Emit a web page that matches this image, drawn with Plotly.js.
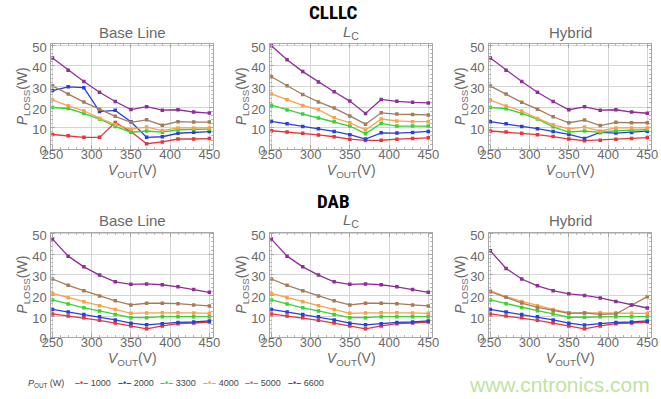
<!DOCTYPE html>
<html><head><meta charset="utf-8">
<script src="https://cdn.plot.ly/plotly-3.0.1.min.js"></script>
<style>html,body{margin:0;padding:0;background:#fff;}#chart{width:661px;height:399px;}</style>
</head><body><div id="chart"></div>
<script>
// ---------------- data ----------------
const VOUT = [250, 270, 290, 310, 330, 350, 370, 390, 410, 430, 450];
const SERIES_NAMES = ['1000', '2000', '3300', '4000', '5000', '6600'];
const SERIES_COLORS = ['#e8353a', '#2a3fdc', '#36d236', '#f5a24c', '#a57c5a', '#8e2f98'];
const PANEL_TITLES = ['Base Line', '<i>L</i><sub>C</sub>', 'Hybrid'];
const ROW_TITLES = ['CLLLC', 'DAB'];
const X_TICKS = [250, 300, 350, 400, 450];
const Y_TICKS = [0, 10, 20, 30, 40, 50];

// CLLLC - Base Line
const CLLLC_BASE_1000 = [6.7, 6.1, 5.3, 5.3, 12.5, 8.1, 2.2, 3.1, 4.5, 4.5, 4.7];
const CLLLC_BASE_2000 = [28.0, 29.8, 29.4, 17.8, 18.4, 12.9, 5.3, 5.6, 7.3, 7.8, 8.1];
const CLLLC_BASE_3300 = [19.8, 19.3, 16.9, 14.2, 10.6, 7.8, 8.4, 7.8, 9.0, 9.1, 9.3];
const CLLLC_BASE_4000 = [23.5, 20.6, 18.2, 14.6, 11.5, 9.3, 10.3, 8.6, 9.9, 9.9, 9.9];
const CLLLC_BASE_5000 = [30.3, 26.4, 22.4, 19.0, 15.5, 12.6, 13.8, 11.2, 12.9, 12.7, 12.7];
const CLLLC_BASE_6600 = [43.8, 37.9, 32.4, 27.2, 22.7, 18.8, 20.2, 18.5, 18.7, 17.6, 17.1];
// CLLLC - L_C
const CLLLC_LC_1000 = [8.5, 7.9, 7.3, 6.5, 5.6, 4.4, 3.8, 3.9, 4.4, 4.8, 5.1];
const CLLLC_LC_2000 = [13.1, 11.9, 10.6, 9.5, 8.2, 6.6, 4.5, 7.5, 7.4, 7.7, 8.2];
const CLLLC_LC_3300 = [20.9, 18.6, 16.6, 14.7, 12.9, 10.8, 7.1, 12.1, 10.8, 10.8, 10.8];
const CLLLC_LC_4000 = [26.4, 23.5, 20.8, 18.7, 14.8, 12.4, 8.9, 14.2, 13.3, 12.9, 12.9];
const CLLLC_LC_5000 = [34.7, 30.3, 26.1, 22.5, 19.5, 15.7, 11.7, 17.2, 16.6, 16.4, 16.2];
const CLLLC_LC_6600 = [49.8, 43.0, 37.2, 32.2, 27.4, 22.9, 16.9, 23.7, 22.8, 22.3, 22.0];
// CLLLC - Hybrid
const CLLLC_HYB_1000 = [8.4, 7.9, 7.3, 6.6, 5.7, 4.5, 3.7, 3.9, 4.4, 4.8, 5.2];
const CLLLC_HYB_2000 = [12.9, 11.9, 10.6, 9.5, 8.1, 6.7, 4.8, 7.7, 7.4, 7.7, 8.3];
const CLLLC_HYB_3300 = [19.8, 19.2, 16.9, 14.2, 10.4, 7.9, 8.4, 7.7, 8.5, 8.7, 9.1];
const CLLLC_HYB_4000 = [23.4, 20.5, 18.1, 14.5, 11.4, 9.4, 10.3, 8.4, 9.9, 9.9, 9.9];
const CLLLC_HYB_5000 = [30.2, 26.4, 22.3, 19.0, 15.3, 12.4, 13.7, 11.0, 12.6, 12.4, 12.4];
const CLLLC_HYB_6600 = [43.8, 37.9, 32.4, 27.2, 22.7, 18.7, 20.1, 18.5, 18.7, 17.6, 17.0];
// DAB - Base Line
const DAB_BASE_1000 = [11.0, 10.0, 9.1, 7.9, 6.6, 5.2, 3.8, 5.2, 6.3, 6.6, 7.1];
const DAB_BASE_2000 = [13.2, 12.0, 10.8, 9.6, 8.1, 6.5, 5.7, 6.3, 6.9, 7.1, 7.6];
const DAB_BASE_3300 = [17.8, 15.9, 14.0, 12.5, 10.8, 9.2, 9.2, 9.7, 9.7, 9.7, 9.7];
const DAB_BASE_4000 = [21.0, 18.9, 16.9, 15.0, 13.2, 11.3, 11.5, 11.6, 11.6, 11.5, 11.3];
const DAB_BASE_5000 = [28.0, 24.9, 22.3, 19.7, 17.4, 15.4, 16.2, 16.2, 16.0, 15.4, 14.9];
const DAB_BASE_6600 = [47.4, 39.1, 33.9, 29.9, 26.6, 25.4, 25.6, 25.2, 24.2, 22.9, 21.5];
// DAB - L_C
const DAB_LC_1000 = [11.0, 10.0, 9.1, 7.9, 6.6, 5.2, 3.8, 5.2, 6.3, 6.6, 7.1];
const DAB_LC_2000 = [13.2, 12.0, 10.8, 9.6, 8.1, 6.5, 5.7, 6.3, 6.9, 7.1, 7.6];
const DAB_LC_3300 = [17.8, 15.9, 14.0, 12.5, 10.8, 9.2, 9.2, 9.7, 9.7, 9.7, 9.7];
const DAB_LC_4000 = [21.0, 18.9, 16.9, 15.0, 13.2, 11.3, 11.5, 11.6, 11.6, 11.5, 11.3];
const DAB_LC_5000 = [28.0, 24.9, 22.3, 19.7, 17.4, 15.4, 16.2, 16.2, 16.0, 15.4, 14.9];
const DAB_LC_6600 = [47.4, 39.1, 33.9, 29.9, 26.6, 25.4, 25.6, 25.2, 24.2, 22.9, 21.5];
// DAB - Hybrid
const DAB_HYB_1000 = [11.0, 10.0, 9.1, 7.9, 6.6, 5.2, 3.8, 5.2, 6.3, 6.6, 7.1];
const DAB_HYB_2000 = [13.2, 12.0, 10.8, 9.6, 8.1, 6.5, 5.6, 6.3, 6.9, 7.1, 7.6];
const DAB_HYB_3300 = [17.8, 16.0, 14.2, 12.6, 11.0, 9.4, 9.4, 9.7, 9.7, 9.7, 9.7];
const DAB_HYB_4000 = [22.2, 19.4, 17.1, 15.0, 13.2, 11.6, 11.6, 11.6, 11.6, 11.5, 11.3];
const DAB_HYB_5000 = [21.8, 19.1, 16.3, 14.2, 12.6, 11.3, 11.5, 10.8, 11.0, 15.4, 19.4];
const DAB_HYB_6600 = [41.7, 33.1, 28.0, 24.7, 22.3, 20.8, 20.0, 18.8, 17.1, 15.4, 13.9];

// ---------------- build ----------------
const PANELS = [
  [CLLLC_BASE_1000, CLLLC_BASE_2000, CLLLC_BASE_3300, CLLLC_BASE_4000, CLLLC_BASE_5000, CLLLC_BASE_6600],
  [CLLLC_LC_1000, CLLLC_LC_2000, CLLLC_LC_3300, CLLLC_LC_4000, CLLLC_LC_5000, CLLLC_LC_6600],
  [CLLLC_HYB_1000, CLLLC_HYB_2000, CLLLC_HYB_3300, CLLLC_HYB_4000, CLLLC_HYB_5000, CLLLC_HYB_6600],
  [DAB_BASE_1000, DAB_BASE_2000, DAB_BASE_3300, DAB_BASE_4000, DAB_BASE_5000, DAB_BASE_6600],
  [DAB_LC_1000, DAB_LC_2000, DAB_LC_3300, DAB_LC_4000, DAB_LC_5000, DAB_LC_6600],
  [DAB_HYB_1000, DAB_HYB_2000, DAB_HYB_3300, DAB_HYB_4000, DAB_HYB_5000, DAB_HYB_6600]
];

const W = 661, H = 399;
const COL_PX = [[51.3, 213.3], [270.2, 432.2], [489.2, 651.2]];
const ROW_PX = [[44, 148.5], [232.5, 336.8]];
const FONT = 'Liberation Sans, Arial, sans-serif';
const GRAY = '#6a6a6a';

const traces = [];
const layout = {
  width: W, height: H,
  margin: {l: 0, r: 0, t: 0, b: 0},
  paper_bgcolor: '#ffffff', plot_bgcolor: '#ffffff',
  showlegend: false,
  font: {family: FONT, color: GRAY},
  annotations: []
};

PANELS.forEach((series, p) => {
  const r = Math.floor(p / 3), c = p % 3;
  const id = p === 0 ? '' : String(p + 1);
  series.forEach((vals, s) => {
    traces.push({
      type: 'scatter', mode: 'lines+markers',
      x: VOUT, y: vals, name: SERIES_NAMES[s],
      xaxis: 'x' + id, yaxis: 'y' + id,
      line: {color: SERIES_COLORS[s], width: 1.3},
      marker: {color: SERIES_COLORS[s], size: 3.5, symbol: 'square'},
      hoverinfo: 'x+y+name'
    });
  });
  const xd = [COL_PX[c][0] / W, COL_PX[c][1] / W];
  const yd = [1 - ROW_PX[r][1] / H, 1 - ROW_PX[r][0] / H];
  layout['xaxis' + id] = {
    domain: xd, anchor: 'y' + id, range: [248.5, 455],
    tickvals: X_TICKS, ticks: 'inside', ticklen: 4, tickcolor: '#a8a8a8',
    ticklabelstandoff: -6,
    minor: {ticks: 'inside', ticklen: 2, tickcolor: '#b8b8b8', dtick: 10, tick0: 250},
    showline: true, linecolor: '#a8a8a8', linewidth: 1, mirror: 'allticks',
    showgrid: true, gridcolor: '#d4d4d4', gridwidth: 1, zeroline: false,
    tickfont: {family: FONT, size: 13, color: GRAY},
    title: {text: '<i>V</i><sub>OUT</sub>(V)', font: {family: FONT, size: 14, color: GRAY}, standoff: 2}
  };
  layout['yaxis' + id] = {
    domain: yd, anchor: 'x' + id, range: [-0.1, 50.6],
    tickvals: Y_TICKS, ticks: 'inside', ticklen: 4, tickcolor: '#a8a8a8',
    ticklabelshift: 2, ticklabelstandoff: 1,
    minor: {ticks: 'inside', ticklen: 2, tickcolor: '#b8b8b8', dtick: 2, tick0: 0},
    showline: true, linecolor: '#a8a8a8', linewidth: 1, mirror: 'allticks',
    showgrid: true, gridcolor: '#d4d4d4', gridwidth: 1, zeroline: false,
    tickfont: {family: FONT, size: 13, color: GRAY},
    title: {text: '<i>P</i><sub>LOSS</sub>(W)', font: {family: FONT, size: 14, color: GRAY}, standoff: 0}
  };
  // panel title
  layout.annotations.push({
    text: PANEL_TITLES[c], xref: 'paper', yref: 'paper',
    x: (xd[0] + xd[1]) / 2, y: 1 - (r === 0 ? 32 : 220) / H,
    xanchor: 'center', yanchor: 'middle', showarrow: false,
    font: {family: FONT, size: 15, color: GRAY}
  });
});

ROW_TITLES.forEach((t, r) => {
  layout.annotations.push({
    text: '<b>' + t + '</b>', xref: 'paper', yref: 'paper',
    x: 333 / W, y: 1 - (r === 0 ? 12 : 201) / H,
    xanchor: 'center', yanchor: 'middle', showarrow: false,
    font: {family: 'Liberation Sans Narrow, Roboto Condensed, Liberation Sans, sans-serif', size: 19, color: '#000'}
  });
});

// legend row
layout.annotations.push({
  text: '<i>P</i><sub>OUT</sub> (W)', xref: 'paper', yref: 'paper',
  x: 46 / W, y: 1 - 383 / H, xanchor: 'center', yanchor: 'middle', showarrow: false,
  font: {family: FONT, size: 9, color: '#444'}
});
SERIES_NAMES.forEach((n, s) => {
  layout.annotations.push({
    text: '<span style="color:' + SERIES_COLORS[s] + ';font-weight:bold">–•–</span> ' + n,
    xref: 'paper', yref: 'paper',
    x: (73 + s * 42.6) / W, y: 1 - 383 / H, xanchor: 'left', yanchor: 'middle', showarrow: false,
    font: {family: FONT, size: 9, color: '#444'}
  });
});

// watermark
layout.annotations.push({
  text: 'www.cntronics.com', xref: 'paper', yref: 'paper',
  x: 559 / W, y: 1 - 384 / H, xanchor: 'center', yanchor: 'middle', showarrow: false,
  font: {family: FONT, size: 21, color: '#bfe3a3'}
});

Plotly.newPlot('chart', traces, layout, {displayModeBar: false, staticPlot: true});
</script>
</body></html>
